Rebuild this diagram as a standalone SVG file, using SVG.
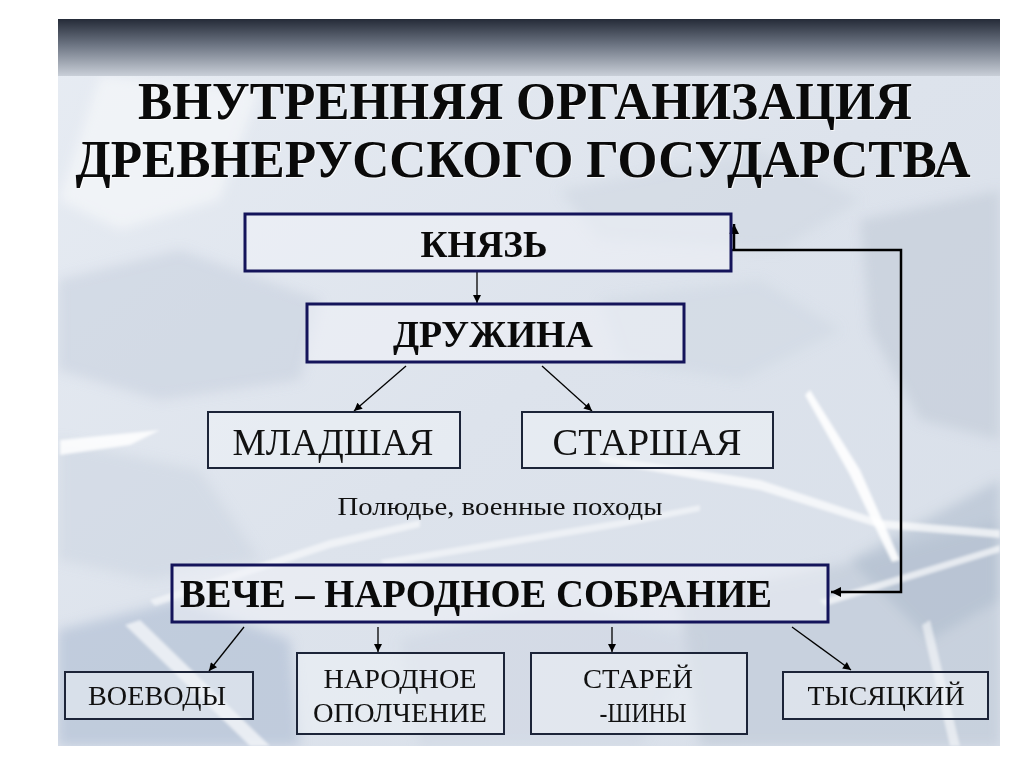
<svg xmlns="http://www.w3.org/2000/svg" width="1024" height="767" viewBox="0 0 1024 767">
  <defs>
    <linearGradient id="band" x1="0" y1="0" x2="0" y2="1">
      <stop offset="0" stop-color="#252b38"/>
      <stop offset="0.45" stop-color="#6c7482"/>
      <stop offset="1" stop-color="#c9cfd8"/>
    </linearGradient>
    <linearGradient id="bg" x1="0" y1="0" x2="1" y2="1">
      <stop offset="0" stop-color="#e7ecf3"/>
      <stop offset="0.5" stop-color="#dde3ec"/>
      <stop offset="1" stop-color="#d8dfe9"/>
    </linearGradient>
    <filter id="soft" x="-10%" y="-10%" width="120%" height="120%">
      <feGaussianBlur stdDeviation="6"/>
    </filter>
    <filter id="softS" x="-10%" y="-10%" width="120%" height="120%">
      <feGaussianBlur stdDeviation="1.5"/>
    </filter>
    <marker id="ah" viewBox="0 0 10 10" refX="10" refY="5" markerWidth="9" markerHeight="8" markerUnits="userSpaceOnUse" orient="auto">
      <path d="M0,0 L10,5 L0,10 Z" fill="#000"/>
    </marker>
    <marker id="ahB" viewBox="0 0 10 10" refX="10" refY="5" markerWidth="12" markerHeight="10" markerUnits="userSpaceOnUse" orient="auto">
      <path d="M0,0 L10,5 L0,10 Z" fill="#000"/>
    </marker>
    <clipPath id="slide"><rect x="58" y="19" width="942" height="727"/></clipPath>
  </defs>
  <style>
    .bold { font-family: "Liberation Serif", "Times New Roman", serif; font-weight: bold; fill: #0a0a0a; }
    .reg { font-family: "Liberation Serif", "Times New Roman", serif; fill: #111; }
    .boxB { fill: #f0f3f8; fill-opacity: 0.55; stroke: #14145a; stroke-width: 3; }
    .boxR { fill: #f0f3f8; fill-opacity: 0.5; stroke: #1c2438; stroke-width: 2; }
    .conn { stroke: #000; stroke-width: 1.3; fill: none; }
    .connB { stroke: #000; stroke-width: 2.5; fill: none; }
  </style>

  <rect x="0" y="0" width="1024" height="767" fill="#ffffff"/>

  <g id="background" clip-path="url(#slide)">
    <rect x="58" y="19" width="942" height="727" fill="url(#bg)"/>
    <g filter="url(#soft)">
      <polygon points="58,280 180,250 320,300 300,380 160,400 58,370" fill="#c4cddb" opacity="0.5"/>
      <polygon points="58,440 200,470 260,560 150,580 58,560" fill="#c8d1dd" opacity="0.45"/>
      <polygon points="58,630 180,600 290,640 300,746 58,746" fill="#aebcd2" opacity="0.6"/>
      <polygon points="860,220 1000,190 1000,440 920,420 870,330" fill="#bfc8d6" opacity="0.55"/>
      <polygon points="680,600 860,560 1000,520 1000,746 700,746" fill="#bac4d3" opacity="0.55"/>
      <polygon points="400,640 560,600 700,640 640,746 420,746" fill="#cbd3df" opacity="0.45"/>
      <polygon points="560,190 760,150 860,200 780,250 600,240" fill="#ced5e0" opacity="0.5"/>
      <polygon points="100,76 260,90 220,200 120,230 58,200" fill="#f5f7fa" opacity="0.7"/>
      <polygon points="850,560 1000,480 1000,600 930,640" fill="#aab7c9" opacity="0.5"/>
      <polygon points="600,300 760,280 840,330 740,380 620,360" fill="#cdd4df" opacity="0.45"/>
    </g>
    <g filter="url(#softS)">
      <polygon points="60,440 160,430 130,445 60,455" fill="#ffffff" opacity="0.85"/>
      <polygon points="140,620 270,746 250,746 125,625" fill="#ffffff" opacity="0.65"/>
      <polygon points="810,390 860,470 900,560 892,562 850,475 805,395" fill="#ffffff" opacity="0.9"/>
      <polygon points="600,455 760,480 880,520 1000,530 1000,538 880,528 760,490 600,462" fill="#ffffff" opacity="0.7"/>
      <polygon points="820,600 1000,545 1000,552 825,606" fill="#ffffff" opacity="0.65"/>
      <polygon points="150,600 330,540 420,520 420,527 330,548 155,606" fill="#ffffff" opacity="0.55"/>
      <polygon points="380,560 620,520 700,505 700,511 620,527 385,566" fill="#ffffff" opacity="0.5"/>
      <polygon points="930,620 960,746 950,746 922,625" fill="#ffffff" opacity="0.55"/>
    </g>
    <rect x="58" y="19" width="942" height="57" fill="url(#band)"/>
  </g>

  <g id="title">
    <text class="bold" x="526" y="120" font-size="52" text-anchor="middle" textLength="774" lengthAdjust="spacingAndGlyphs" style="fill:#ffffff" opacity="0.7">ВНУТРЕННЯЯ ОРГАНИЗАЦИЯ</text>
    <text class="bold" x="525" y="119" font-size="52" text-anchor="middle" textLength="774" lengthAdjust="spacingAndGlyphs">ВНУТРЕННЯЯ ОРГАНИЗАЦИЯ</text>
    <text class="bold" x="524" y="178" font-size="52" text-anchor="middle" textLength="895" lengthAdjust="spacingAndGlyphs" style="fill:#ffffff" opacity="0.7">ДРЕВНЕРУССКОГО ГОСУДАРСТВА</text>
    <text class="bold" x="523" y="177" font-size="52" text-anchor="middle" textLength="895" lengthAdjust="spacingAndGlyphs">ДРЕВНЕРУССКОГО ГОСУДАРСТВА</text>
  </g>

  <g id="connectors">
    <line class="conn" x1="477" y1="271" x2="477" y2="303" marker-end="url(#ah)"/>
    <line class="conn" x1="406" y1="366" x2="354" y2="411" marker-end="url(#ah)"/>
    <line class="conn" x1="542" y1="366" x2="592" y2="411" marker-end="url(#ah)"/>
    <polyline class="connB" points="731,250 901,250 901,592 831,592" marker-end="url(#ahB)"/>
    <line class="connB" x1="734" y1="250" x2="734" y2="224" marker-end="url(#ahB)"/>
    <line class="conn" x1="244" y1="627" x2="209" y2="671" marker-end="url(#ah)"/>
    <line class="conn" x1="378" y1="627" x2="378" y2="652" marker-end="url(#ah)"/>
    <line class="conn" x1="612" y1="627" x2="612" y2="652" marker-end="url(#ah)"/>
    <line class="conn" x1="792" y1="627" x2="851" y2="670" marker-end="url(#ah)"/>
  </g>

  <g id="knyaz">
    <rect class="boxB" x="245" y="214" width="486" height="57"/>
    <text class="bold" x="484" y="257" font-size="37" text-anchor="middle" textLength="127" lengthAdjust="spacingAndGlyphs">КНЯЗЬ</text>
  </g>

  <g id="druzhina">
    <rect class="boxB" x="307" y="304" width="377" height="58"/>
    <text class="bold" x="493" y="347" font-size="37" text-anchor="middle" textLength="200" lengthAdjust="spacingAndGlyphs">ДРУЖИНА</text>
  </g>

  <g id="mladshaya">
    <rect class="boxR" x="208" y="412" width="252" height="56"/>
    <text class="reg" x="333" y="455" font-size="37" text-anchor="middle" textLength="201" lengthAdjust="spacingAndGlyphs">МЛАДШАЯ</text>
  </g>

  <g id="starshaya">
    <rect class="boxR" x="522" y="412" width="251" height="56"/>
    <text class="reg" x="647" y="455" font-size="37" text-anchor="middle" textLength="189" lengthAdjust="spacingAndGlyphs">СТАРШАЯ</text>
  </g>

  <g id="note">
    <text class="reg" x="500" y="515" font-size="26" text-anchor="middle" textLength="325" lengthAdjust="spacingAndGlyphs">Полюдье, военные походы</text>
  </g>

  <g id="veche">
    <rect class="boxB" x="172" y="565" width="656" height="57"/>
    <text class="bold" x="180" y="607" font-size="40" textLength="592" lengthAdjust="spacingAndGlyphs">ВЕЧЕ – НАРОДНОЕ СОБРАНИЕ</text>
  </g>

  <g id="voevody">
    <rect class="boxR" x="65" y="672" width="188" height="47"/>
    <text class="reg" x="157" y="705" font-size="27" text-anchor="middle" textLength="138" lengthAdjust="spacingAndGlyphs">ВОЕВОДЫ</text>
  </g>

  <g id="opolchenie">
    <rect class="boxR" x="297" y="653" width="207" height="81"/>
    <text class="reg" x="400" y="688" font-size="27" text-anchor="middle" textLength="153" lengthAdjust="spacingAndGlyphs">НАРОДНОЕ</text>
    <text class="reg" x="400" y="722" font-size="27" text-anchor="middle" textLength="174" lengthAdjust="spacingAndGlyphs">ОПОЛЧЕНИЕ</text>
  </g>

  <g id="stareyshiny">
    <rect class="boxR" x="531" y="653" width="216" height="81"/>
    <text class="reg" x="638" y="688" font-size="27" text-anchor="middle" textLength="110" lengthAdjust="spacingAndGlyphs">СТАРЕЙ</text>
    <text class="reg" x="643" y="722" font-size="27" text-anchor="middle" textLength="87" lengthAdjust="spacingAndGlyphs">-ШИНЫ</text>
  </g>

  <g id="tysyatsky">
    <rect class="boxR" x="783" y="672" width="205" height="47"/>
    <text class="reg" x="886" y="705" font-size="27" text-anchor="middle" textLength="157" lengthAdjust="spacingAndGlyphs">ТЫСЯЦКИЙ</text>
  </g>
</svg>
